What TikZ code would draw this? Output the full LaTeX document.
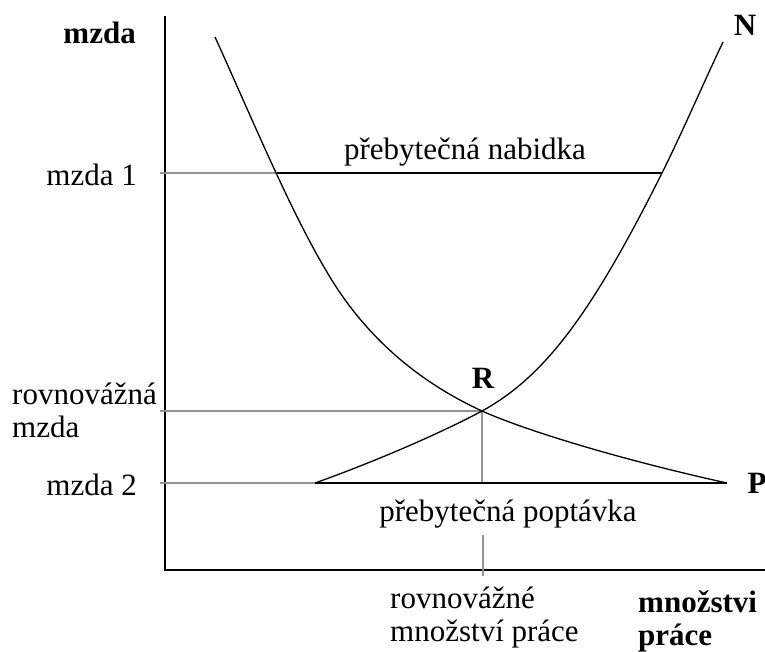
\documentclass[tikz,border=0pt]{standalone}
\usepackage{fontspec}
\setmainfont{Liberation Serif}

\begin{document}
\begin{tikzpicture}[x=1pt, y=-1pt, font=\fontsize{31}{33}\selectfont,
  axis/.style={line width=1.6pt, black},
  guide/.style={line width=1.5pt, gray!85},
  gap/.style={line width=1.5pt, black},
  curve/.style={line width=1.3pt, black},
  lbl/.style={inner sep=0pt, align=left}]
\useasboundingbox (0,0) rectangle (765,651);
\coordinate (ytop) at (165,16); \coordinate (O) at (165,570); \coordinate (xend) at (765,570);
\coordinate (R) at (482,411);
\coordinate (w1) at (160,173); \coordinate (d1) at (277,173); \coordinate (s1) at (662,173);
\coordinate (we) at (160,411);
\coordinate (w2) at (160,483); \coordinate (s2) at (315,483); \coordinate (d2) at (727,483);
\coordinate (Rb) at (482,483); \coordinate (qtop) at (483,535); \coordinate (qbot) at (483,576);
\coordinate (dtop) at (215,37); \coordinate (dmid) at (333,282); \coordinate (stop) at (723,42);
\draw[axis] (ytop) -- (O) -- (xend);
\draw[guide] (w1) -- (d1); \draw[gap] (d1) -- (s1);
\draw[guide] (we) -- (R); \draw[guide] (R) -- (Rb); \draw[guide] (qtop) -- (qbot);
\draw[guide] (w2) -- (s2); \draw[gap] (s2) -- (d2);
\draw[curve] (dtop) .. controls (255,125) and (293,218) .. (dmid) .. controls (369,339) and (419,382) .. (R) .. controls (529,432) and (627,461) .. (d2);
\draw[curve] (s2) .. controls (374,462) and (441,433) .. (R) .. controls (544,377) and (591,315) .. (s1) .. controls (682,133) and (703,84) .. (stop);
\node[lbl, anchor=east] (wage) at (136,33) {\bfseries mzda};
\node[lbl, anchor=east] (wage1) at (137,175) {mzda 1};
\node[lbl, anchor=west] (wageeq) at (12,410) {rovnovážná\\mzda};
\node[lbl, anchor=east] (wage2) at (137,485) {mzda 2};
\node[lbl] (surplus) at (465,152) {přebytečná nabidka};
\node[lbl] (shortage) at (508,514) {přebytečná poptávka};
\node[lbl] (Rlab) at (483,378) {\bfseries R};
\node[lbl] (Nlab) at (745,25) {\bfseries N};
\node[lbl] (Plab) at (757,483) {\bfseries P};
\node[lbl, anchor=west] (qeq) at (390,618) {rovnovážné\\množství práce};
\node[lbl, anchor=west] (qlab) at (638,621) {\bfseries množstvi\\\bfseries práce};
\end{tikzpicture}
\end{document}
